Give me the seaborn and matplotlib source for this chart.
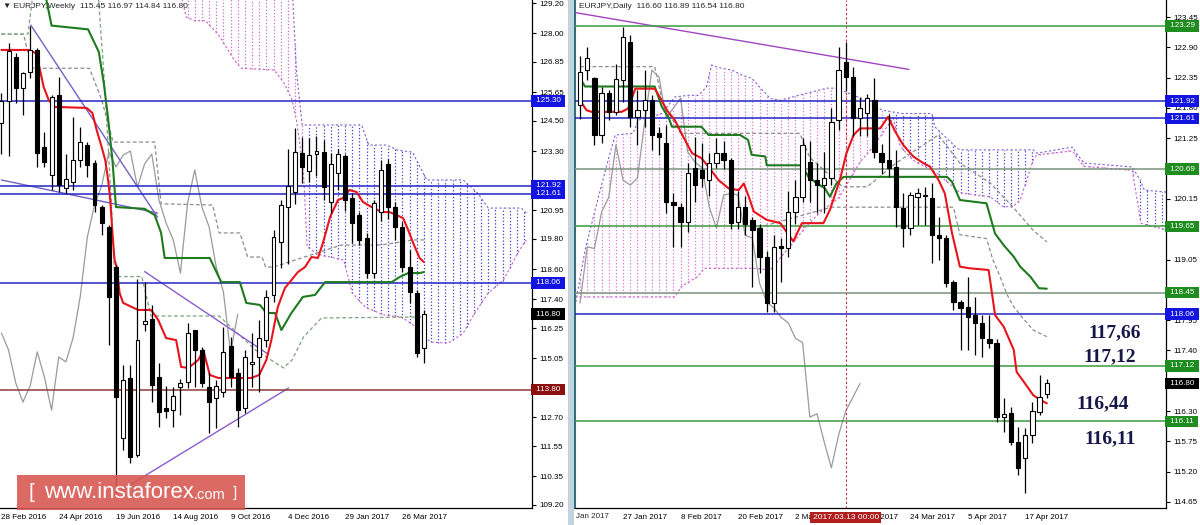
import numpy as np
import matplotlib
matplotlib.use("Agg")
import matplotlib.pyplot as plt
import matplotlib.transforms as mtransforms
from matplotlib.patches import Rectangle
import seaborn as sns

# ==========================================
# Weekly EURJPY (bar 0 = week of 28 Feb 2016)
# ==========================================
w_open = [124.4, 125.3, 127.06, 125.8, 126.45, 127.33, 123.46, 122.35, 125.53, 121.83,
          122.07, 122.94, 123.54, 122.83, 121.07, 120.28, 118.68, 111.87, 114.26, 111.19,
          116.4, 116.6, 114.3, 113.05, 112.98, 113.9, 114.1, 116.17, 115.37, 113.9,
          113.46, 113.7, 115.53, 114.46, 113.06, 114.8, 115.1, 115.77, 117.57, 119.68,
          121.07, 121.67, 123.22, 122.5, 123.2, 123.26, 121.27, 122.43, 123.1, 121.43,
          120.75, 119.84, 118.44, 120.87, 122.8, 121.07, 120.28, 118.68, 117.65, 115.45]
w_high = [125.6, 127.6, 127.2, 126.45, 128.3, 127.4, 124.06, 125.53, 126.25, 123.2,
          124.66, 124.26, 123.66, 122.95, 121.15, 120.36, 118.76, 114.78, 114.78, 118.2,
          118.08, 117.17, 114.86, 113.95, 113.9, 114.2, 116.45, 116.17, 115.5, 114.46,
          114.18, 116.3, 115.9, 114.66, 115.37, 116.05, 116.57, 117.77, 120.16, 121.35,
          123.4, 124.22, 123.86, 123.82, 123.9, 123.74, 123.22, 123.38, 123.2, 121.63,
          120.87, 120.04, 121.35, 122.95, 123.0, 121.27, 120.48, 119.36, 117.77, 116.97]
w_low = [123.2, 123.1, 125.2, 124.74, 126.2, 122.67, 122.67, 121.75, 121.67, 121.6,
         121.75, 122.67, 122.27, 120.87, 119.96, 115.57, 109.68, 111.4, 110.87, 111.11,
         116.15, 113.3, 112.3, 112.66, 112.3, 112.8, 113.86, 113.9, 113.9, 112.07,
         112.27, 113.5, 113.9, 112.3, 112.87, 113.9, 113.7, 115.5, 117.29, 118.64,
         118.8, 121.2, 122.03, 122.07, 122.3, 121.35, 120.83, 121.75, 120.9, 119.64,
         119.56, 118.24, 118.24, 120.5, 120.6, 119.76, 118.48, 117.25, 115.1, 114.84]
w_close = [125.3, 127.3, 125.8, 126.4, 127.33, 123.22, 122.86, 125.45, 121.95, 122.2,
           122.94, 123.66, 122.75, 121.15, 120.43, 117.49, 113.5, 114.18, 111.11, 115.77,
           116.55, 114.0, 112.9, 112.95, 113.54, 114.05, 116.05, 115.37, 114.06, 113.3,
           113.94, 115.3, 114.3, 112.98, 115.1, 114.9, 115.85, 117.49, 119.88, 121.15,
           121.91, 123.26, 122.67, 123.14, 123.3, 121.87, 122.79, 123.18, 121.35, 120.43,
           119.76, 118.44, 121.23, 122.55, 121.07, 120.28, 118.68, 117.69, 115.26, 116.80]

w_tick_pos = [0, 8, 16, 24, 32, 40, 48, 56]
w_tick_lab = ["28 Feb 2016", "24 Apr 2016", "19 Jun 2016", "14 Aug 2016",
              "9 Oct 2016", "4 Dec 2016", "29 Jan 2017", "26 Mar 2017"]
w_yticks = [109.20, 110.35, 111.55, 112.70, 113.85, 115.05, 116.25, 117.40, 118.60,
            119.80, 120.95, 122.15, 123.30, 124.50, 125.65, 126.85, 128.00, 129.20]
w_yhidden = [113.85, 122.15]

# Ichimoku lines, weekly (bar position, price)
w_tenkan_x = [0, 3.8, 4.8, 5.3, 5.9, 6.6, 7.4, 11.9, 12.7, 13.3, 14.0, 14.5, 14.9, 15.2,
              15.5, 15.8, 16.1, 16.5, 17.0, 19.1, 20.9, 21.9, 23.0, 24.4, 25.1, 26.1, 27.5,
              28.2, 29.1, 30.3, 34.9, 36.0, 37.0, 37.7, 38.6, 39.6, 40.5, 41.4, 42.4, 43.3,
              44.2, 44.9, 45.9, 47.0, 47.7, 48.6, 49.6, 50.5, 51.7, 53.1, 54.2, 55.2, 56.1,
              56.8, 57.5, 58.4, 59.0]
w_tenkan_y = [127.33, 127.33, 127.2, 126.65, 125.85, 125.34, 125.06, 125.02, 124.82, 124.14,
              123.46, 122.94, 122.15, 121.35, 120.04, 118.96, 118.68, 117.65, 117.25, 116.97,
              116.97, 116.57, 115.85, 115.77, 114.7, 114.66, 114.98, 115.37, 114.38, 114.26,
              114.26, 114.38, 114.98, 115.77, 117.09, 117.85, 118.16, 118.48, 118.68, 119.08,
              119.04, 119.64, 120.67, 121.35, 121.43, 121.75, 121.67, 121.27, 121.07, 120.87,
              120.87, 120.75, 120.63, 120.16, 119.64, 119.04, 118.88]
w_kijun_x = [5.8, 7.0, 12.1, 13.6, 14.3, 14.9, 15.5, 16.0, 20.0, 21.4, 22.3, 22.8, 29.1,
             30.7, 33.3, 34.2, 36.1, 37.0, 38.2, 39.1, 40.5, 42.1, 43.8, 45.2, 54.5, 55.6,
             56.8, 58.4, 59.0]
w_kijun_y = [130.0, 128.3, 128.15, 127.25, 126.0, 124.6, 122.94, 121.07, 121.0, 120.75,
             120.04, 119.04, 119.04, 118.08, 118.08, 117.25, 117.17, 116.85, 116.85, 116.17,
             116.85, 117.49, 117.57, 118.08, 118.08, 118.28, 118.44, 118.44, 118.48]
w_dash1_x = [0, 3.1, 4.2, 12.3, 14.0, 15.6, 21.4, 22.3, 29.5, 30.4, 33.3, 34.4, 36.4, 36.9,
             38.0, 47.5, 53.0, 57.7, 59.0]
w_dash1_y = [127.96, 127.96, 126.6, 126.6, 125.34, 123.66, 123.66, 121.2, 121.15, 120.04,
             120.04, 119.08, 119.08, 118.68, 118.68, 119.56, 119.56, 119.76, 119.76]
w_dash2_x = [0, 3.7, 4.6, 13.4, 14.4, 15.4, 15.8, 19.6, 20.9, 30.4, 35.5, 39.4, 40.6, 42.2,
             44.7, 59.0]
w_dash2_y = [127.96, 127.96, 130.0, 130.0, 126.0, 121.0, 118.3, 118.3, 116.73, 116.73,
             115.37, 114.66, 114.98, 115.9, 116.65, 116.69]

# weekly kumo
w_ktop_x = [24.7, 40.4, 41.2, 42.0, 50.3, 51.3, 53.8, 55.3, 57.4, 59.4, 64.5, 66.5, 68.0,
            72.6, 73.3]
w_ktop_y = [131.0, 131.0, 126.5, 124.34, 124.34, 123.54, 123.54, 123.34, 123.26, 122.15,
            122.15, 121.63, 121.03, 121.03, 120.83]
w_kbot_x = [24.7, 25.8, 27.0, 28.5, 30.4, 32.5, 33.5, 38.1, 39.5, 40.6, 41.2, 41.6, 42.2,
            42.7, 44.0, 47.8, 49.0, 50.8, 53.4, 55.9, 57.9, 59.9, 62.4, 64.5, 66.1, 68.0,
            70.1, 71.1, 72.1, 73.3]
w_kbot_y = [130.0, 128.64, 128.5, 128.5, 127.9, 126.93, 126.6, 126.53, 126.0, 125.33,
            124.54, 123.74, 122.35, 119.5, 119.2, 118.96, 117.65, 117.09, 116.77, 116.69,
            116.29, 115.69, 115.65, 116.05, 116.85, 117.65, 118.16, 118.68, 119.24, 119.76]
w_ksplit = [42.2]
w_kcolors = ["#CF6ACF", "#3A3ACC"]

# trend lines weekly
w_trend = [([4.1, 21.8], [128.32, 120.67], "#6F62C8"),
           ([0.0, 21.8], [122.15, 120.83], "#6F62C8"),
           ([20.0, 37.3], [118.5, 115.2], "#8A5CCF"),
           ([16.8, 40.1], [109.8, 113.86], "#8A5CCF")]

# horizontal levels weekly
w_lvl = [125.30, 121.92, 121.61, 118.06, 113.80]
w_lvl_col = ["#2424C8", "#2424C8", "#2424C8", "#2424C8", "#8E3A3A"]
w_lab = [125.30, 121.92, 121.61, 118.06, 116.80, 113.80]
w_lab_col = ["#1414E0", "#1414E0", "#1414E0", "#1414E0", "#000000", "#8B1010"]

# ==========================================
# Daily EURJPY (bar 65 = 20 Apr 2017)
# ==========================================
d_open = [121.85, 122.49, 122.34, 121.31, 122.07, 121.73, 122.3, 123.0, 121.63, 121.76,
          121.94, 121.35, 121.16, 120.1, 120.0, 119.73, 120.71, 120.67, 120.49, 120.8,
          120.98, 120.85, 119.73, 120.0, 119.77, 119.62, 119.1, 118.26, 119.3, 119.26,
          119.91, 120.18, 120.82, 120.49, 120.4, 120.53, 121.58, 122.63, 122.36, 121.62,
          121.71, 121.94, 120.98, 120.85, 120.73, 119.98, 119.62, 120.18, 120.2, 120.17,
          119.49, 119.44, 118.64, 118.28, 118.19, 118.04, 117.9, 117.6, 117.53, 116.19,
          116.26, 115.74, 115.45, 115.86, 116.28, 116.60]
d_high = [122.75, 122.9, 122.36, 122.18, 122.13, 122.6, 123.27, 123.12, 122.13, 122.49,
          122.03, 121.45, 121.5, 120.25, 120.07, 120.8, 121.27, 121.16, 120.98, 121.25,
          121.2, 120.9, 120.3, 120.2, 119.82, 119.7, 119.2, 119.5, 119.44, 120.3,
          120.5, 121.25, 121.2, 120.8, 121.0, 121.8, 122.9, 123.0, 122.55, 122.0,
          122.05, 122.35, 121.15, 121.7, 121.04, 120.26, 120.27, 120.35, 120.37, 120.44,
          119.82, 119.5, 118.68, 118.31, 118.73, 118.37, 118.04, 118.04, 117.6, 116.54,
          116.37, 116.01, 115.99, 116.46, 116.95, 116.89]
d_low = [121.6, 122.3, 121.13, 121.16, 121.58, 121.67, 121.9, 121.45, 121.13, 121.45,
         121.04, 120.95, 119.9, 119.28, 119.28, 119.55, 120.09, 120.36, 120.2, 120.71,
         120.7, 119.6, 119.6, 119.5, 118.55, 118.8, 118.1, 118.1, 118.64, 119.1,
         119.7, 120.1, 120.1, 119.9, 119.9, 120.4, 121.4, 122.1, 121.3, 121.3,
         121.3, 120.9, 120.6, 120.55, 119.64, 119.28, 119.5, 119.68, 119.68, 118.98,
         119.04, 118.55, 118.13, 117.41, 117.41, 117.32, 117.28, 117.45, 116.1, 115.92,
         115.68, 115.14, 114.81, 115.72, 116.23, 116.54]
d_close = [122.45, 122.71, 121.31, 122.07, 121.73, 122.32, 123.09, 121.63, 121.76, 121.94,
           121.31, 121.27, 120.09, 120.04, 119.73, 120.62, 120.4, 120.53, 120.8, 120.98,
           120.85, 119.71, 120.0, 119.7, 119.58, 119.1, 118.26, 119.28, 119.25, 119.91,
           120.18, 121.13, 120.49, 120.4, 120.53, 121.54, 122.49, 122.36, 121.62, 121.8,
           121.98, 121.0, 120.82, 120.71, 120.0, 119.62, 120.22, 120.25, 120.22, 119.49,
           119.44, 118.62, 118.28, 118.17, 118.0, 117.9, 117.62, 117.54, 116.19, 116.25,
           115.74, 115.27, 115.86, 116.3, 116.55, 116.80]

d_tick_pos = [6, 14, 22, 30, 38, 46, 54, 62]
d_tick_lab = ["27 Jan 2017", "8 Feb 2017", "20 Feb 2017", "2 Mar 2017",
              "14 Mar 2017", "24 Mar 2017", "5 Apr 2017", "17 Apr 2017"]
d_yticks = [114.65, 115.20, 115.75, 116.30, 116.85, 117.40, 117.95, 118.50, 119.05,
            119.60, 120.15, 120.70, 121.25, 121.80, 122.35, 122.90, 123.45]
d_yhidden = [116.85, 118.50, 120.70]

d_tenkan_x = [0, 0.9, 1.6, 5.8, 6.7, 7.7, 10.4, 11.1, 12.1, 13.2, 14.6, 15.6, 16.9, 17.9,
              19.3, 20.7, 22.1, 22.8, 23.5, 24.2, 26.0, 27.9, 29.7, 30.9, 33.9, 34.8, 36.2,
              37.1, 38.1, 39.0, 40.9, 41.8, 42.9, 43.9, 45.0, 46.4, 47.8, 48.7, 49.9, 50.8,
              51.8, 52.9, 54.3, 56.9, 57.8, 59.0, 60.4, 60.8, 61.8, 63.1, 64.1, 65.0]
d_tenkan_y = [121.94, 121.76, 121.73, 121.73, 121.79, 122.15, 122.15, 122.0, 121.76, 121.58,
              121.22, 120.98, 120.89, 120.73, 120.49, 120.34, 120.31, 120.43, 120.19, 119.92,
              119.77, 119.71, 119.38, 119.71, 119.71, 119.95, 120.5, 120.98, 121.31, 121.43,
              121.43, 121.43, 121.64, 121.37, 121.13, 120.92, 120.8, 120.74, 120.5, 120.25,
              119.53, 118.92, 118.89, 118.86, 118.04, 117.83, 117.41, 117.01, 116.83, 116.59,
              116.5, 116.44]
d_kijun_x = [0, 0.7, 10.4, 11.4, 12.3, 12.8, 16.9, 17.9, 22.3, 23.4, 23.9, 25.8, 26.0, 30.9,
             31.8, 33.0, 34.1, 34.8, 35.7, 36.7, 37.1, 51.1, 51.8, 52.9, 56.6, 57.8, 59.0,
             60.4, 61.3, 62.7, 63.9, 65.0]
d_kijun_y = [122.34, 122.19, 122.19, 121.82, 121.64, 121.46, 121.46, 121.31, 121.31, 121.22,
             120.95, 120.92, 120.76, 120.76, 120.55, 120.43, 120.34, 120.19, 120.43, 120.55,
             120.55, 120.55, 120.46, 120.13, 120.07, 119.52, 119.31, 119.1, 118.92, 118.74,
             118.53, 118.52]
d_dash1_x = [0, 10.4, 11.5, 14.0, 30.6, 32.0, 36.6, 40.0, 44.0, 49.9, 52.9, 57.1, 60.3,
             63.1, 65.0]
d_dash1_y = [122.55, 122.55, 121.9, 121.34, 121.34, 120.9, 120.37, 120.37, 120.8, 121.31,
             120.8, 120.44, 120.0, 119.58, 119.37]
d_dash2_x = [24.0, 35.0, 52.0, 52.9, 56.6, 57.5, 58.5, 59.4, 60.4, 61.7, 63.1, 65.0]
d_dash2_y = [119.6, 120.0, 120.0, 119.5, 119.43, 119.04, 118.74, 118.43, 118.19, 117.98,
             117.77, 117.65]

d_ktop_x = [-0.7, 0.7, 2.1, 3.9, 4.9, 7.4, 8.1, 10.0, 11.4, 13.2, 15.1, 16.5, 17.6, 18.3,
            19.7, 21.1, 22.5, 23.9, 26.5, 27.9, 31.6, 34.4, 35.7, 38.7, 42.1, 44.8, 49.0,
            49.4, 52.5, 52.9, 63.1, 63.6, 68.6, 69.1, 70.2, 76.9, 78.0, 78.6, 81.9]
d_ktop_y = [118.2, 119.22, 119.95, 120.85, 121.31, 121.34, 121.58, 121.64, 121.7, 122.0,
            122.03, 122.03, 122.18, 122.58, 122.52, 122.49, 122.4, 122.34, 121.97, 121.94,
            122.07, 122.16, 122.16, 122.0, 121.76, 121.7, 121.7, 121.46, 121.07, 121.04,
            121.04, 120.98, 121.09, 120.98, 120.8, 120.73, 120.49, 120.31, 120.27]
d_kbot_x = [-0.7, 13.2, 14.1, 16.4, 17.3, 24.3, 26.5, 29.2, 31.4, 33.3, 36.1, 37.5, 38.9,
            41.0, 43.6, 44.6, 46.4, 49.7, 52.9, 57.1, 58.9, 60.3, 61.3, 62.2, 63.1, 63.6,
            68.6, 69.1, 70.2, 76.9, 77.5, 78.1, 81.9]
d_kbot_y = [118.37, 118.37, 118.56, 118.74, 118.89, 118.89, 118.86, 119.28, 119.64, 119.89,
            120.18, 120.49, 120.8, 121.13, 121.62, 121.1, 120.85, 120.62, 120.26, 120.19,
            120.01, 120.01, 120.13, 120.49, 120.85, 120.95, 121.02, 120.92, 120.74, 120.67,
            120.2, 119.71, 119.58]
d_ksplit = [43.6, 63.6, 77.3]
d_kcolors = ["#E070E0", "#3C3CD0", "#D070D0", "#3C3CD0"]

d_trend = [([-0.6, 45.8], [123.53, 122.5], "#A045C0")]

d_lvl = [123.29, 121.92, 121.61, 120.69, 119.65, 118.45, 118.06, 117.12, 116.11]
d_lvl_col = ["#3C9A3C", "#2424C8", "#2424C8", "#7A927A", "#3C9A3C", "#7A927A",
             "#2424C8", "#3C9A3C", "#3C9A3C"]
d_lab = [123.29, 121.92, 121.61, 120.69, 119.65, 118.45, 118.06, 117.12, 116.80, 116.11]
d_lab_col = ["#1E8C1E", "#1414E0", "#1414E0", "#1E8C1E", "#1E8C1E", "#1E8C1E",
             "#1414E0", "#1E8C1E", "#000000", "#1E8C1E"]

d_note_txt = ["117,66", "117,12", "116,44", "116,11"]
d_note_x = [74.4, 73.8, 72.8, 73.8]
d_note_y = [117.73, 117.28, 116.43, 115.79]

# ==========================================
# Helpers
# ==========================================
sns.set_style("white")
plt.rcParams["font.family"] = ["Liberation Sans", "DejaVu Sans"]
FS = 5.8


def draw_candles(ax, o, h, l, c, width, min_body):
    o, h, l, c = (np.asarray(a, float) for a in (o, h, l, c))
    x = np.arange(len(o))
    bull = c >= o
    ax.vlines(x, l, h, color="black", lw=0.9, zorder=6)
    ax.bar(x, np.maximum(np.abs(c - o), min_body), bottom=np.minimum(o, c), width=width,
           color=np.where(bull, "white", "black"), edgecolor="black", linewidth=0.8,
           zorder=7)


def draw_cloud(ax, tx, ty, bx, by, splits, colors):
    bars = np.arange(int(np.ceil(max(tx[0], bx[0]))), int(np.floor(min(tx[-1], bx[-1]))) + 1)
    top = np.interp(bars, tx, ty)
    bot = np.interp(bars, bx, by)
    region = np.searchsorted(splits, bars, side="right")
    for k, col in enumerate(colors):
        m = region == k
        ax.vlines(bars[m], bot[m], top[m], colors=col, linestyles="dotted", lw=0.9, zorder=2)
    sns.lineplot(x=tx, y=ty, ax=ax, color="#8060D0", lw=0.8, linestyle=(0, (2, 2)),
                 estimator=None, sort=False, legend=False, zorder=2)
    sns.lineplot(x=bx, y=by, ax=ax, color="#C060C8", lw=0.8, linestyle=(0, (2, 2)),
                 estimator=None, sort=False, legend=False, zorder=2)


def line(ax, x, y, color, lw, ls="-", z=4):
    sns.lineplot(x=x, y=y, ax=ax, color=color, lw=lw, linestyle=ls, estimator=None,
                 sort=False, legend=False, zorder=z)


def price_labels(ax, values, colors):
    tr = mtransforms.blended_transform_factory(ax.transAxes, ax.transData)
    for v, col in zip(values, colors):
        ax.text(1.003, v, f" {v:.2f} ", transform=tr, ha="left", va="center", fontsize=FS,
                color="white", zorder=20, clip_on=False,
                bbox=dict(boxstyle="square,pad=0.3", fc=col, ec="none"))


def style_axis(ax, yticks, hidden, tick_pos, tick_lab):
    ax.yaxis.tick_right()
    ax.set_yticks(yticks)
    ax.set_yticklabels(["" if t in hidden else f"{t:.2f}" for t in yticks])
    ax.set_xticks(tick_pos)
    ax.set_xticklabels(tick_lab)
    for t in ax.get_xticklabels():
        t.set_ha("left")
    ax.tick_params(axis="both", direction="out", length=3, width=0.8, labelsize=FS,
                   pad=1.5, colors="black")
    ax.tick_params(axis="y", pad=2)
    ax.set_xlabel("")
    ax.set_ylabel("")
    for s in ("top", "left"):
        ax.spines[s].set_visible(False)
    for s in ("right", "bottom"):
        ax.spines[s].set_color("black")
        ax.spines[s].set_linewidth(0.9)


# ==========================================
# Figure
# ==========================================
fig = plt.figure(figsize=(12, 5.25), dpi=100)
fig.patch.set_facecolor("white")
ax1 = fig.add_axes([0, 17 / 525, 532 / 1200, 508 / 525])
ax2 = fig.add_axes([575 / 1200, 17 / 525, 591 / 1200, 508 / 525])

# ---------- weekly panel ----------
draw_cloud(ax1, w_ktop_x, w_ktop_y, w_kbot_x, w_kbot_y, w_ksplit, w_kcolors)
line(ax1, w_dash1_x, w_dash1_y, "#8C8C8C", 0.9, (0, (3, 2)), 3)
line(ax1, w_dash2_x, w_dash2_y, "#7FA27F", 0.9, (0, (3, 2)), 3)
line(ax1, np.arange(len(w_close) - 26), w_close[26:], "#9A9A9A", 0.9, "-", 3)
for xs, ys, col in w_trend:
    line(ax1, xs, ys, col, 1.0, "-", 4)
for v, col in zip(w_lvl, w_lvl_col):
    ax1.axhline(v, color=col, lw=1.1, zorder=4)
line(ax1, w_kijun_x, w_kijun_y, "#1E7A1E", 1.5, "-", 5)
line(ax1, w_tenkan_x, w_tenkan_y, "#E8141B", 1.5, "-", 5)
draw_candles(ax1, w_open, w_high, w_low, w_close, 0.55, 0.04)
ax1.set_xlim(-0.2, 74.1)
ax1.set_ylim(109.08, 129.32)
style_axis(ax1, w_yticks, w_yhidden, w_tick_pos, w_tick_lab)
price_labels(ax1, w_lab, w_lab_col)
ax1.text(0.006, 0.987, "\u25BC EURJPY,Weekly  115.45 116.97 114.84 116.80",
         transform=ax1.transAxes, fontsize=6.0, va="center", ha="left", zorder=20)

# ---------- daily panel ----------
draw_cloud(ax2, d_ktop_x, d_ktop_y, d_kbot_x, d_kbot_y, d_ksplit, d_kcolors)
line(ax2, d_dash1_x, d_dash1_y, "#8C8C8C", 0.9, (0, (3, 2)), 3)
line(ax2, d_dash2_x, d_dash2_y, "#8C8C8C", 0.9, (0, (3, 2)), 3)
line(ax2, np.arange(len(d_close) - 26), d_close[26:], "#9A9A9A", 0.9, "-", 3)
for xs, ys, col in d_trend:
    line(ax2, xs, ys, col, 1.0, "-", 4)
for v, col in zip(d_lvl, d_lvl_col):
    ax2.axhline(v, color=col, lw=1.1, zorder=4)
ax2.axvline(37, color="#C03030", lw=0.8, linestyle=(0, (2, 2)), zorder=3)
line(ax2, d_kijun_x, d_kijun_y, "#1E7A1E", 1.5, "-", 5)
line(ax2, d_tenkan_x, d_tenkan_y, "#E8141B", 1.5, "-", 5)
draw_candles(ax2, d_open, d_high, d_low, d_close, 0.6, 0.02)
ax2.set_xlim(-0.7, 81.6)
ax2.set_ylim(114.54, 123.76)
style_axis(ax2, d_yticks, d_yhidden, d_tick_pos, d_tick_lab)
ax2.spines["left"].set_visible(True)
ax2.spines["left"].set_color("#2F6F7F")
ax2.spines["left"].set_linewidth(1.5)
price_labels(ax2, d_lab, d_lab_col)
ax2.text(0.006, 0.987, "EURJPY,Daily  116.60 116.89 116.54 116.80",
         transform=ax2.transAxes, fontsize=6.0, va="center", ha="left", zorder=20)
for t, x, y in zip(d_note_txt, d_note_x, d_note_y):
    ax2.text(x, y, t, ha="center", va="center", fontsize=14, fontweight="bold",
             family="Liberation Serif", color="#161648", zorder=20)
trx = mtransforms.blended_transform_factory(ax2.transData, ax2.transAxes)
ax2.text(37, -0.019, "2017.03.13 00:00", transform=trx, ha="center", va="center",
         fontsize=FS + 0.3, color="white", zorder=25, clip_on=False,
         bbox=dict(boxstyle="square,pad=0.25", fc="#B01E1E", ec="none"))
fig.text(576 / 1200, 8 / 525, "Jan 2017", fontsize=FS, va="center", ha="left")

# panel separator
fig.patches.append(Rectangle((568 / 1200, 0), 6 / 1200, 1, transform=fig.transFigure,
                             fc="#C4D4DF", ec="none", zorder=0))

# watermark
fig.patches.append(Rectangle((17 / 1200, 15 / 525), 228 / 1200, 35 / 525,
                             transform=fig.transFigure, fc="#D65A52", ec="none",
                             alpha=0.9, zorder=30))
fig.text(28 / 1200, 33 / 525, "[", color="white", fontsize=15, va="center", ha="left",
         zorder=31)
www = fig.text(44 / 1200, 32 / 525, "www.instaforex", color="white", fontsize=16,
               va="center", ha="left", zorder=31)
fig.canvas.draw()
bb = www.get_window_extent()
fig.text(bb.x1 / 1200, 30 / 525, ".com", color="white", fontsize=10.5, va="center",
         ha="left", zorder=31)
fig.text(233 / 1200, 32 / 525, "]", color="white", fontsize=11, va="center", ha="left",
         zorder=31)

fig.savefig("out.png", dpi=100, facecolor="white")
